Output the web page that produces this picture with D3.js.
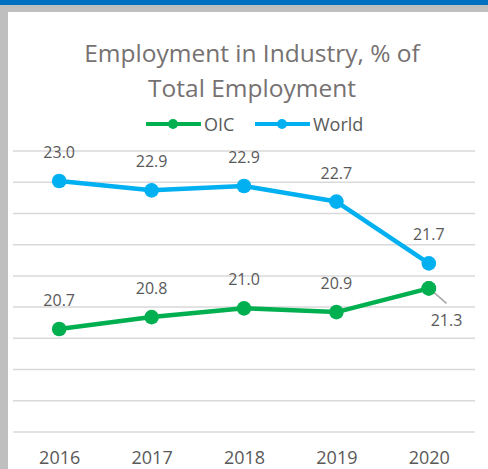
<!DOCTYPE html>
<html><head><meta charset="utf-8">
<script src="https://cdn.jsdelivr.net/npm/d3@7"></script>
<style>body{margin:0;background:#fff}svg{display:block}</style>
</head><body><svg id="c" width="488" height="469"></svg>
<script>
const years = ["2016", "2017", "2018", "2019", "2020"];
const oic = [20.65, 20.84, 20.98, 20.92, 21.30];
const world = [23.02, 22.87, 22.94, 22.69, 21.70];
const oicLabels = ["20.7", "20.8", "21.0", "20.9", "21.3"];
const worldLabels = ["23.0", "22.9", "22.9", "22.7", "21.7"];
const gridValues = [19, 19.5, 20, 20.5, 21, 21.5, 22, 22.5, 23, 23.5];
const titleLines = ["Employment in Industry, % of", "Total Employment"];
const seriesNames = ["OIC", "World"];

const FONT = "'Open Sans', sans-serif";
const GREEN = "#00B050", BLUE = "#00B0F0";
const svg = d3.select("#c");

// frame
svg.append("rect").attr("x",0).attr("y",0).attr("width",488).attr("height",469).attr("fill","#fff");
svg.append("rect").attr("x",0).attr("y",0).attr("width",488).attr("height",12).attr("fill","#BFBFBF");
svg.append("rect").attr("x",0).attr("y",0).attr("width",8).attr("height",469).attr("fill","#BFBFBF");
svg.append("rect").attr("x",0).attr("y",0).attr("width",488).attr("height",5).attr("fill","#0070C0");

const x = d3.scalePoint().domain(years).range([13, 475]).padding(0.5);
const y = d3.scaleLinear().domain([19, 23.5]).range([432, 151]);

// gridlines
svg.append("g").selectAll("line").data(gridValues).join("line")
  .attr("x1", 13).attr("x2", 475)
  .attr("y1", d => y(d)).attr("y2", d => y(d))
  .attr("stroke", "#D9D9D9").attr("stroke-width", 1.5);

// x axis labels
const xAxis = d3.axisBottom(x).tickSize(0).tickPadding(0);
const gx = svg.append("g").attr("transform", "translate(0,432)").call(xAxis);
gx.select(".domain").remove();
gx.selectAll("text").attr("font-family", FONT).attr("font-size", 18).attr("fill", "#595959")
  .attr("dy", null).attr("y", 31.5);

// title
svg.append("text").attr("text-anchor","middle").attr("font-family",FONT).attr("font-size",24.5)
  .attr("fill","#767171")
  .selectAll("tspan").data(titleLines).join("tspan")
  .attr("x", 252).attr("y", (d,i) => 62 + i*35).text(d => d);

// legend
const legend = [{name: seriesNames[0], color: GREEN, x0: 146}, {name: seriesNames[1], color: BLUE, x0: 255}];
const lg = svg.append("g").selectAll("g").data(legend).join("g");
lg.append("line").attr("x1", d => d.x0).attr("x2", d => d.x0 + 55).attr("y1",124).attr("y2",124)
  .attr("stroke", d => d.color).attr("stroke-width", 4);
lg.append("circle").attr("cx", d => d.x0 + 27).attr("cy", 124).attr("r", 5).attr("fill", d => d.color);
lg.append("text").attr("x", d => d.x0 + 58).attr("y", 130.5).attr("font-family",FONT).attr("font-size",18)
  .attr("fill","#595959").text(d => d.name);

// series
const line = d3.line().x((d,i) => x(years[i])).y(d => y(d));
function drawSeries(vals, color) {
  svg.append("path").datum(vals).attr("d", line).attr("fill","none")
    .attr("stroke", color).attr("stroke-width", 4.5).attr("stroke-linejoin","round");
  svg.append("g").selectAll("circle").data(vals).join("circle")
    .attr("cx", (d,i) => x(years[i])).attr("cy", d => y(d)).attr("r", 7.3).attr("fill", color);
}
drawSeries(world, BLUE);
drawSeries(oic, GREEN);

// data labels
function labels(vals, texts, special) {
  svg.append("g").selectAll("text").data(vals).join("text")
    .attr("text-anchor","middle").attr("font-family",FONT).attr("font-size",16).attr("fill","#595959")
    .attr("x", (d,i) => x(years[i]) + (special && i === special.idx ? special.dx : 0))
    .attr("y", (d,i) => y(d) + (special && i === special.idx ? special.dy : -23))
    .text((d,i) => texts[i]);
}
labels(world, worldLabels);
labels(oic, oicLabels, {idx: 4, dx: 17.7, dy: 37.5});
// leader line for 2020 OIC label
svg.append("line").attr("x1", x(years[4]) + 1).attr("y1", y(oic[4]) + 0.5)
  .attr("x2", x(years[4]) + 17.7).attr("y2", y(oic[4]) + 15)
  .attr("stroke","#A6A6A6").attr("stroke-width",1.5);
// redraw the last green marker over the leader start
svg.append("circle").attr("cx", x(years[4])).attr("cy", y(oic[4])).attr("r", 7.3).attr("fill", GREEN);
</script></body></html>
